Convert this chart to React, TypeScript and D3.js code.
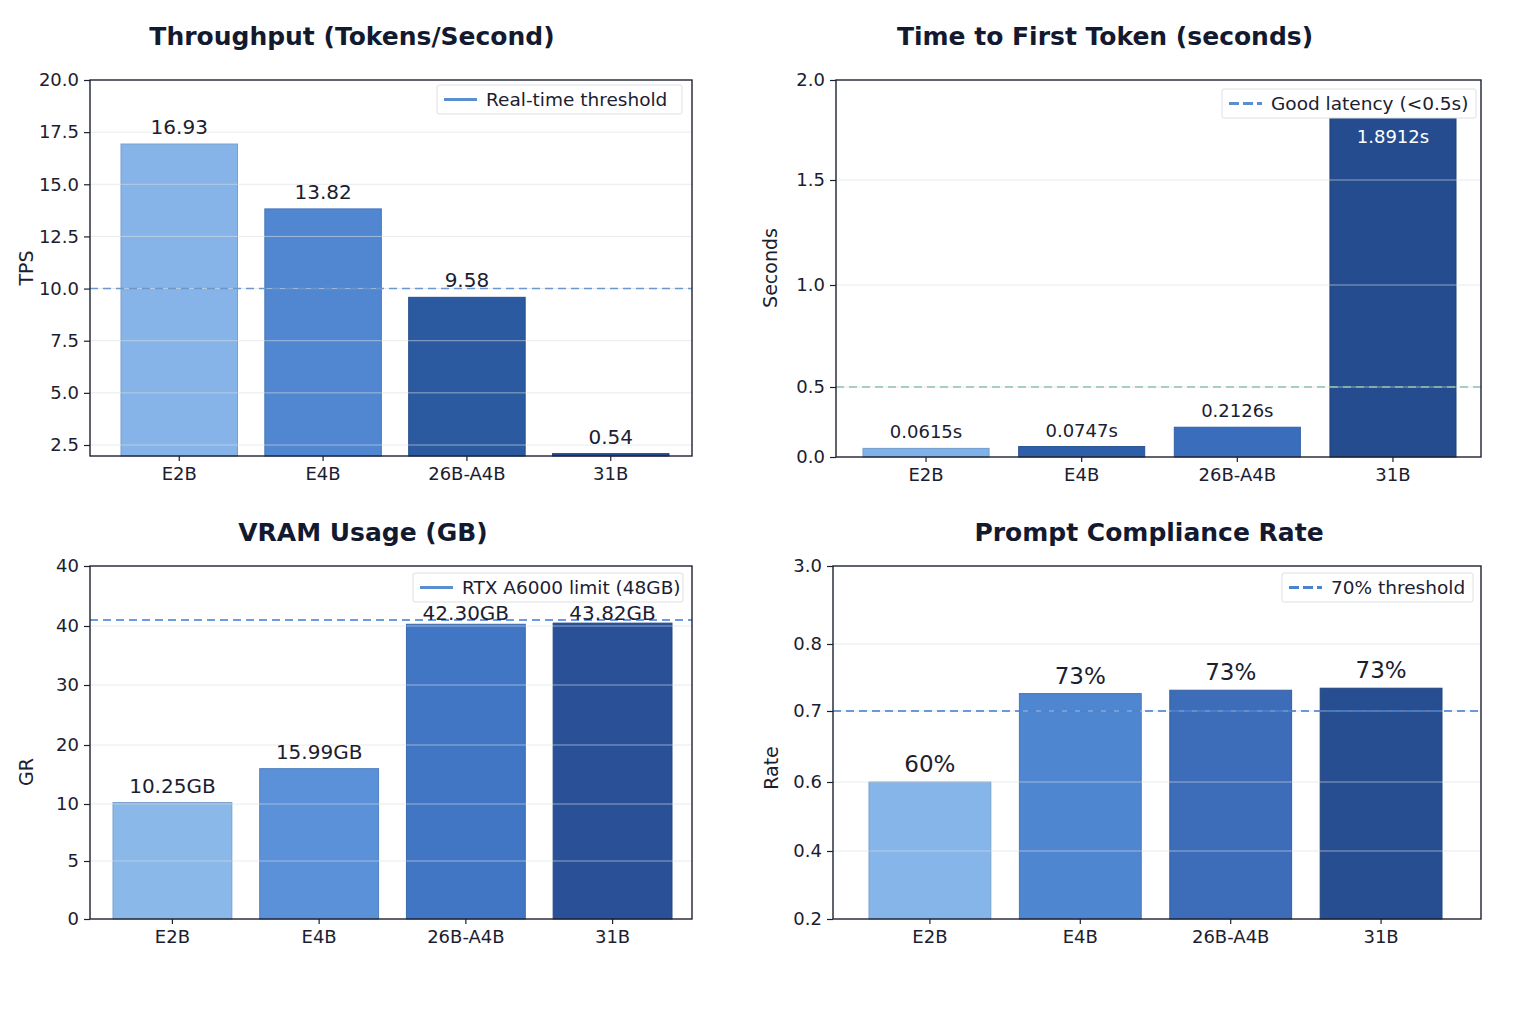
import { useEffect, useRef } from "react";
import * as d3 from "d3";

// model variants along every x axis
const models = ["E2B", "E4B", "26B-A4B", "31B"];

// throughput, tokens per second
const tpsValues = [16.93, 13.82, 9.58, 0.54];
const tpsTicks = [2.5, 5, 7.5, 10, 12.5, 15, 17.5, 20];
const tpsTickLabels = ["2.5", "5.0", "7.5", "10.0", "12.5", "15.0", "17.5", "20.0"];
const tpsThreshold = 10;

// time to first token, seconds
const ttftValues = [0.0615, 0.0747, 0.2126, 1.8912];
const ttftTicks = [0, 0.5, 1, 1.5, 2];
const ttftTickLabels = ["0.0", "0.5", "1.0", "1.5", "2.0"];
const ttftThreshold = 0.5;

// VRAM usage, GB (top stop of the axis is compressed)
const vramValues = [10.25, 15.99, 42.3, 43.82];
const vramTicks = [0, 5, 10, 20, 30, 40, 120];
const vramTickLabels = ["0", "5", "10", "20", "30", "40", "40"];
const vramLimit = 48;

// prompt compliance rate
const complianceValues = [0.6, 0.726, 0.731, 0.734];
const complianceTicks = [0.2, 0.4, 0.6, 0.7, 0.8, 3.0];
const complianceTickLabels = ["0.2", "0.4", "0.6", "0.7", "0.8", "3.0"];
const complianceThreshold = 0.7;

const FONT = "'DejaVu Sans', 'Noto Sans', sans-serif";
const INK = "#1b2030";

type Panel = {
    title: string; titleX: number; titleY: number;
    yLabel: string; yLabelX: number; yLabelY: number;
    plot: { x0: number; x1: number; y0: number; y1: number };
    barRange: [number, number];
    yDomain: number[]; yRange: number[];
    ticks: number[]; tickLabels: string[];
    values: number[]; format: (d: number) => string; labelSize: number;
    colors: string[];
    threshold: number; thresholdColor: string;
    legend: { x: number; y: number; w: number; text: string; dashed: boolean; color: string };
};

const panels: Panel[] = [
    {
        title: "Throughput (Tokens/Second)", titleX: 352, titleY: 45,
        yLabel: "TPS", yLabelX: 33, yLabelY: 268,
        plot: { x0: 90, x1: 692, y0: 80, y1: 456 },
        barRange: [121, 669],
        yDomain: [0, 2.5, 20], yRange: [456, 445, 80],
        ticks: tpsTicks, tickLabels: tpsTickLabels,
        values: tpsValues, format: d3.format(".2f"), labelSize: 20,
        colors: ["#86b4e8", "#5187d0", "#2b5aa0", "#284e92"],
        threshold: tpsThreshold, thresholdColor: "#6b98cc",
        legend: { x: 437, y: 85, w: 245, text: "Real-time threshold", dashed: false, color: "#5b8ed0" },
    },
    {
        title: "Time to First Token (seconds)", titleX: 1105, titleY: 45,
        yLabel: "Seconds", yLabelX: 777, yLabelY: 268,
        plot: { x0: 836, x1: 1481, y0: 80, y1: 457 },
        barRange: [863, 1456],
        yDomain: [0, 0.5, 1, 1.5, 2], yRange: [457, 387, 285, 180, 80],
        ticks: ttftTicks, tickLabels: ttftTickLabels,
        values: ttftValues, format: (d) => d3.format(".4f")(d) + "s", labelSize: 18,
        colors: ["#80b2ea", "#2f5fa8", "#3b6dbd", "#254c8e"],
        threshold: ttftThreshold, thresholdColor: "#8cc3a6",
        legend: { x: 1222, y: 89, w: 254, text: "Good latency (<0.5s)", dashed: true, color: "#5b8ed0" },
    },
    {
        title: "VRAM Usage (GB)", titleX: 363, titleY: 541,
        yLabel: "GR", yLabelX: 33, yLabelY: 772,
        plot: { x0: 90, x1: 692, y0: 566, y1: 919 },
        barRange: [113, 672],
        yDomain: vramTicks, yRange: [919, 861, 804, 745, 685, 626, 566],
        ticks: vramTicks, tickLabels: vramTickLabels,
        values: vramValues, format: (d) => d3.format(".2f")(d) + "GB", labelSize: 20,
        colors: ["#8ab8e9", "#5b91d8", "#4176c4", "#2a5197"],
        threshold: vramLimit, thresholdColor: "#3b7bd8",
        legend: { x: 413, y: 573, w: 270, text: "RTX A6000 limit (48GB)", dashed: false, color: "#5b8ed0" },
    },
    {
        title: "Prompt Compliance Rate", titleX: 1149, titleY: 541,
        yLabel: "Rate", yLabelX: 778, yLabelY: 768,
        plot: { x0: 833, x1: 1481, y0: 566, y1: 919 },
        barRange: [869, 1442],
        yDomain: complianceTicks, yRange: [919, 851, 782, 711, 644, 566],
        ticks: complianceTicks, tickLabels: complianceTickLabels,
        values: complianceValues, format: d3.format(".0%"), labelSize: 23,
        colors: ["#86b5ea", "#4f86d0", "#3d6cb8", "#264e90"],
        threshold: complianceThreshold, thresholdColor: "#3c7bd0",
        legend: { x: 1282, y: 573, w: 191, text: "70% threshold", dashed: true, color: "#4a84cc" },
    },
];

const LEGEND_H = 29;

const drawPanel = (svg: d3.Selection<SVGSVGElement, unknown, null, undefined>, p: Panel) => {
    const g = svg.append("g");
    const { x0, x1, y0, y1 } = p.plot;
    const lg = p.legend;

    const x = d3.scaleBand().domain(models).range(p.barRange).paddingInner(0.19).paddingOuter(0);
    const y = d3.scaleLinear().domain(p.yDomain).range(p.yRange);
    const base = y(p.yDomain[0]);

    // bars
    g.selectAll("rect.bar")
        .data(p.values)
        .join("rect")
        .attr("class", "bar")
        .attr("x", (d, i) => x(models[i])!)
        .attr("y", d => y(d))
        .attr("width", x.bandwidth())
        .attr("height", d => Math.max(0, base - y(d)))
        .attr("fill", (d, i) => p.colors[i])
        .attr("stroke", (d, i) => d3.color(p.colors[i])!.darker(0.35).formatHex())
        .attr("stroke-width", 1);

    // light grid on top of the bars
    g.selectAll("line.grid")
        .data(p.ticks.filter(t => y(t) > y0 + 1 && y(t) < y1 - 1))
        .join("line")
        .attr("class", "grid")
        .attr("x1", x0).attr("x2", x1)
        .attr("y1", d => y(d)).attr("y2", d => y(d))
        .attr("stroke", "#d9dce2")
        .attr("stroke-opacity", 0.6)
        .attr("stroke-width", 1);

    // threshold line
    g.append("line")
        .attr("x1", x0).attr("x2", x1)
        .attr("y1", y(p.threshold)).attr("y2", y(p.threshold))
        .attr("stroke", p.thresholdColor)
        .attr("stroke-width", 1.6)
        .attr("stroke-dasharray", "8,5");

    // frame
    g.append("rect")
        .attr("x", x0).attr("y", y0)
        .attr("width", x1 - x0).attr("height", y1 - y0)
        .attr("fill", "none")
        .attr("stroke", "#1d2231")
        .attr("stroke-width", 1.4);

    // legend
    g.append("rect")
        .attr("x", lg.x).attr("y", lg.y)
        .attr("width", lg.w).attr("height", LEGEND_H)
        .attr("rx", 2)
        .attr("fill", "#ffffff")
        .attr("stroke", "#dcdfe4");
    g.append("line")
        .attr("x1", lg.x + 7).attr("x2", lg.x + 40)
        .attr("y1", lg.y + 14.5).attr("y2", lg.y + 14.5)
        .attr("stroke", lg.color)
        .attr("stroke-width", 3)
        .attr("stroke-dasharray", lg.dashed ? "10,4" : null);
    g.append("text")
        .attr("x", lg.x + 49).attr("y", lg.y + 21)
        .attr("font-family", FONT)
        .attr("font-size", 18.5)
        .attr("fill", INK)
        .text(lg.text);

    // value labels: above the bar, nudged clear of the legend box,
    // or inside the bar in white when there is no room above it
    const legendBottom = lg.y + LEGEND_H;
    const cap = p.labelSize * 0.73;
    const labelPos = (d: number, i: number) => {
        const cx = x(models[i])! + x.bandwidth() / 2;
        const top = y(d);
        let by = top - 10;
        const half = x.bandwidth() / 2;
        const underLegend = cx + half > lg.x && cx - half < lg.x + lg.w;
        if (underLegend && by - cap < legendBottom + 2) {
            by = legendBottom + cap + 3;
            if (by > top - 1) return { cx, by: Math.max(top, legendBottom) + cap + 12, inside: true };
        }
        return { cx, by, inside: false };
    };

    g.selectAll("text.value")
        .data(p.values)
        .join("text")
        .attr("class", "value")
        .attr("x", (d, i) => labelPos(d, i).cx)
        .attr("y", (d, i) => labelPos(d, i).by)
        .attr("text-anchor", "middle")
        .attr("font-family", FONT)
        .attr("font-size", p.labelSize)
        .attr("fill", (d, i) => (labelPos(d, i).inside ? "#ffffff" : INK))
        .text(d => p.format(d));

    // y axis
    const yAxis = g.append("g")
        .attr("transform", "translate(" + x0 + ",0)")
        .call(d3.axisLeft(y).tickValues(p.ticks).tickFormat((d, i) => p.tickLabels[i]).tickSize(6).tickPadding(5));
    yAxis.select(".domain").remove();

    // x axis
    const xAxis = g.append("g")
        .attr("transform", "translate(0," + y1 + ")")
        .call(d3.axisBottom(x).tickSize(5).tickPadding(6));
    xAxis.select(".domain").remove();

    [yAxis, xAxis].forEach(a => {
        a.selectAll("line").attr("stroke", INK).attr("stroke-width", 1.2);
        a.selectAll("text").attr("font-family", FONT).attr("font-size", 18).attr("fill", INK);
    });

    // axis title
    g.append("text")
        .attr("transform", "translate(" + p.yLabelX + "," + p.yLabelY + ") rotate(-90)")
        .attr("text-anchor", "middle")
        .attr("font-family", FONT)
        .attr("font-size", 19)
        .attr("fill", INK)
        .text(p.yLabel);

    // chart title
    g.append("text")
        .attr("x", p.titleX).attr("y", p.titleY)
        .attr("text-anchor", "middle")
        .attr("font-family", FONT)
        .attr("font-weight", "bold")
        .attr("font-size", 25)
        .attr("fill", "#131a30")
        .text(p.title);
};

const App = () => {
    const ref = useRef<SVGSVGElement>(null);

    useEffect(() => {
        const svg = d3.select(ref.current!);
        svg.selectAll("*").remove();
        panels.forEach(p => drawPanel(svg, p));
    }, []);

    return (
        <svg ref={ref} width={1536} height={1024}
            style={{ position: "absolute", left: 0, top: 0, background: "#ffffff" }} />
    );
};

export default App;
